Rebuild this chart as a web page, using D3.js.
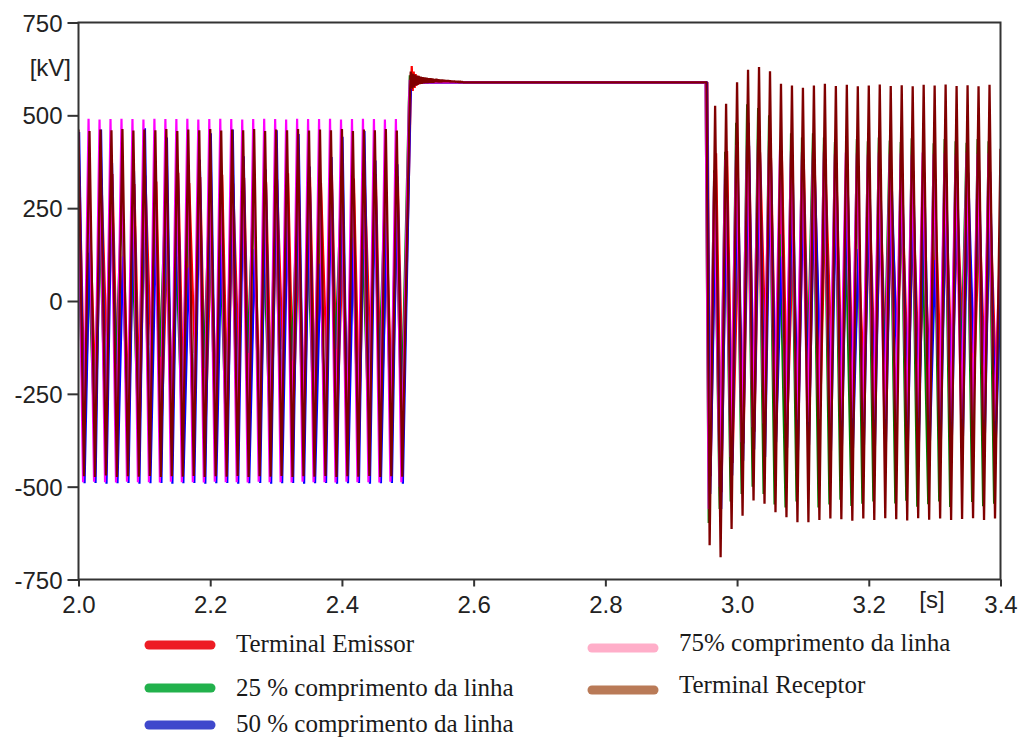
<!DOCTYPE html>
<html>
<head>
<meta charset="utf-8">
<script src="https://cdn.jsdelivr.net/npm/d3@7"></script>
<style>
  body { margin: 0; background: #fff; }
  svg { display: block; }
</style>
</head>
<body>
<svg id="chart" width="1024" height="740"></svg>
<script>
// ---- Axis ticks ----
const xTicks = [2.0, 2.2, 2.4, 2.6, 2.8, 3.0, 3.2, 3.4];
const yTicks = [-750, -500, -250, 0, 250, 500, 750];

// ---- Series (drawn in this order, receptor on top) ----
const seriesNames = [
  "Terminal Emissor",
  "25 % comprimento da linha",
  "50 % comprimento da linha",
  "75% comprimento da linha",
  "Terminal Receptor"
];
// phase lag of each measuring point relative to the receiving end (ms)
const phaseLagMs = [1.5, -1.4, 0.9, -1.4, 0.0];

// time base: one extreme value per 60 Hz half cycle
const gridStartS = 2.0;
const halfCycleS = 1 / 120;
const postFirstHalfCycle = 115;   // first extreme after the step at ~2.95 s
const ringStartS = 2.503;         // energisation transient
const ringStepS = 0.0015;
const stepDownS = 2.9535;

// sampled extremes before 2.5 s (kV), alternating peak / trough
const preEmissor = [
  335, -322, 180, -296, 330, -150, 342, -305, 160, -318,
  315, -328, 338, -120, 322, -322, 150, -310, 345, -326,
  318, -140, 334, -332, 170, -306, 340, -320, 316, -160,
  332, -302, 140, -330, 320, -312, 328, -130, 344, -298,
  190, -330, 334, -310, 318, -150, 340, -304, 160, -330,
  330, -316, 318, -140, 342, -326, 170, -312, 336, -322
];
const pre25 = [
  262, -318, 130, -334, 248, -312, 290, -170, 270, -306,
  140, -330, 300, -322, 258, -150, 284, -314, 120, -328,
  248, -336, 292, -180, 274, -326, 150, -338, 298, -318,
  260, -140, 286, -308, 130, -336, 294, -324, 268, -160,
  254, -340, 150, -320, 276, -330, 248, -130, 296, -336,
  262, -318, 140, -330, 252, -170, 292, -338, 270, -322
];
const pre50 = [
  455, -491, 210, -490, 462, -492, 372, -491, 120, -490,
  350, -492, 465, -491, 180, -490, 440, -492, 358, -491,
   90, -490, 380, -492, 452, -491, 200, -490, 462, -492,
  390, -491, 140, -490, 354, -492, 460, -491, 230, -490,
  450, -492, 362, -491, 100, -490, 388, -492, 442, -491,
  170, -490, 458, -492, 378, -491, 210, -490, 368, -492
];
const pre75 = [
  490, -488, 491, -487, 489, -488, 490, -489, 491, -487,
  490, -488, 489, -488, 491, -489, 490, -487, 490, -488,
  491, -488, 489, -489, 490, -487, 491, -488, 490, -488,
  489, -489, 490, -487, 491, -488, 490, -488, 489, -489,
  491, -487, 490, -488, 490, -488, 491, -489, 489, -487,
  490, -488, 491, -488, 490, -489, 489, -487, 490, -488
];
const preReceptor = [
  462, -472, 458, -474, 462, -470, 460, -474, 463, -472,
  459, -473, 462, -471, 460, -474, 463, -472, 458, -473,
  462, -471, 460, -474, 463, -472, 459, -473, 462, -471,
  460, -474, 463, -472, 458, -473, 462, -471, 460, -474,
  463, -472, 459, -473, 462, -471, 460, -474, 463, -472,
  458, -473, 462, -471, 460, -474, 463, -472, 459, -473
];

// transient after 2.5 s, sampled every 1.5 ms (kV)
const ringEmissor = [548, 633, 566, 618, 574, 611, 580, 606, 584, 603, 586, 601, 589];
const ring25 = [535, 608, 580, 612, 575, 606, 583, 604, 585, 602, 589];
const ring50 = [530, 602, 578, 609, 579, 605, 582, 603, 589];
const ring75 = [520, 596, 571, 608, 577, 605, 581, 602, 589];
const ringReceptor = [
  540, 618, 572, 612, 576, 610, 580, 607, 582, 606,
  584, 604, 585, 603, 586, 602, 587, 601, 587, 600,
  588, 600, 588, 599, 588, 598, 589, 598, 589, 597,
  589, 596, 589, 596, 590, 595, 590, 594, 590, 594,
  590, 593, 590, 592, 590, 592, 590, 591, 590, 591,
  589, 591, 589, 590, 589
];
// settled level before the step at ~2.95 s (kV)
const dcLevel = [589, 589, 589, 589, 589];

// sampled extremes after ~2.95 s (kV), starting with a trough
const postEmissor = [
  -472, 398, -515, 404, -436, 150, -384, 418, -352, 402,
  -120, 386, -330, 378, -318, 160, -306, 358, -298, 344,
  -286, 322, -140, 304, -268, 292, -262, 130, -250, 274,
  -246, 266, -240, 262, -110, 256, -238, 250, -232, 150,
  -228, 246, -230, 244, -226, 248, -130, 242, -228, 240,
  -222, 244, -220, 132
];
const post25 = [
  -598, 352, -560, 402, -540, 480, -520, 530, -500, 520,
  -520, 500, -548, 180, -556, 452, -540, 440, -200, 452,
  -556, 440, -548, 428, -535, 170, -552, 436, -546, 430,
  -540, 440, -190, 432, -545, 428, -538, 438, -554, 160,
  -547, 425, -540, 436, -555, 430, -180, 426, -541, 436,
  -553, 430, -546, 92
];
const post50 = [
  -520, 255, -560, 330, -470, 370, -430, 480, -400, 450,
  -420, 430, -380, 120, -395, 372, -402, 360, -388, 368,
  -150, 352, -404, 350, -392, 356, -400, 140, -396, 352,
  -402, 348, -394, 354, -160, 344, -398, 350, -404, 346,
  -396, 110, -400, 344, -394, 350, -402, 346, -140, 352,
  -400, 348, -396, 60
];
const post75 = [
  -560, 345, -500, 380, -420, 420, -380, 440, -340, 430,
  -330, 420, -320, 410, -330, 405, -320, 400, -326, 398,
  -318, 402, -330, 396, -322, 400, -316, 398, -326, 394,
  -320, 400, -318, 396, -328, 398, -322, 394, -316, 400,
  -324, 396, -320, 398, -326, 394, -318, 400, -322, 396,
  -320, 398, -324, 110
];
const postReceptor = [
  -658, 526, -690, 531, -614, 589, -578, 623, -537, 630,
  -546, 619, -569, 585, -582, 580, -596, 574, -596, 580,
  -590, 585, -586, 579, -588, 582, -592, 578, -586, 580,
  -590, 583, -585, 579, -588, 581, -591, 578, -585, 582,
  -589, 580, -586, 583, -590, 579, -587, 581, -585, 578,
  -590, 582, -586, 410
];

const preValues = [preEmissor, pre25, pre50, pre75, preReceptor];
const ringValues = [ringEmissor, ring25, ring50, ring75, ringReceptor];
const postValues = [postEmissor, post25, post50, post75, postReceptor];

// ---- Styles ----
const lineColors = ["#ff0000", "#008000", "#0000ff", "#ff00ff", "#800000"];
const lineWidths = [2.2, 2.2, 2.2, 2.2, 2.3];
const legendColors = ["#ed1c24", "#22b14c", "#3f48cc", "#ffaec9", "#b97a57"];

// ---- Layout ----
const svg = d3.select("#chart");
const plot = { left: 78.5, right: 1000.5, top: 22.5, bottom: 579.5 };

const x = d3.scaleLinear().domain([2.0, 3.4]).range([plot.left, plot.right]);
const y = d3.scaleLinear().domain([-750, 750]).range([plot.bottom, plot.top]);

const defs = svg.append("defs");
defs.append("clipPath").attr("id", "plotClip")
  .append("rect")
  .attr("x", plot.left).attr("y", plot.top)
  .attr("width", plot.right - plot.left)
  .attr("height", plot.bottom - plot.top);

// build each trace from its extremes and transient samples
function buildTrace(i) {
  const lag = phaseLagMs[i] / 1000;
  const pts = [];
  preValues[i].forEach((v, k) => pts.push([gridStartS + k * halfCycleS + lag, v]));
  ringValues[i].forEach((v, k) => pts.push([ringStartS + k * ringStepS + lag, v]));
  pts.push([stepDownS + lag, dcLevel[i]]);
  postValues[i].forEach((v, k) =>
    pts.push([gridStartS + (postFirstHalfCycle + k) * halfCycleS + lag, v]));
  return pts;
}

const line = d3.line().x(d => x(d[0])).y(d => y(d[1]));

const traces = svg.append("g").attr("clip-path", "url(#plotClip)");
seriesNames.forEach((name, i) => {
  traces.append("path")
    .datum(buildTrace(i))
    .attr("fill", "none")
    .attr("stroke", lineColors[i])
    .attr("stroke-width", lineWidths[i])
    .attr("stroke-linejoin", "bevel")
    .attr("d", line);
});

// ---- Axes and frame ----
const axisColor = "#333";
const labelFont = "'Liberation Sans', Arial, sans-serif";

const yAxis = svg.append("g")
  .attr("transform", `translate(${plot.left},0)`)
  .call(d3.axisLeft(y).tickValues(yTicks).tickSize(11).tickPadding(5)
    .tickFormat(d => String(d)));
const xAxis = svg.append("g")
  .attr("transform", `translate(0,${plot.bottom})`)
  .call(d3.axisBottom(x).tickValues(xTicks).tickSize(7).tickPadding(8)
    .tickFormat(d3.format(".1f")));

[yAxis, xAxis].forEach(g => {
  g.select(".domain").remove();
  g.selectAll(".tick line").attr("stroke", axisColor).attr("stroke-width", 2);
  g.selectAll(".tick text")
    .attr("fill", "#222")
    .style("font-family", labelFont)
    .style("font-size", "24px");
});
yAxis.selectAll(".tick text").attr("dy", "0.36em");
xAxis.selectAll(".tick text").attr("dy", "0.78em");

svg.append("rect")
  .attr("x", plot.left).attr("y", plot.top)
  .attr("width", plot.right - plot.left)
  .attr("height", plot.bottom - plot.top)
  .attr("fill", "none")
  .attr("stroke", axisColor)
  .attr("stroke-width", 2);

// unit labels
svg.append("text")
  .attr("x", 71).attr("y", 76)
  .attr("text-anchor", "end")
  .attr("fill", "#222")
  .style("font-family", labelFont).style("font-size", "24px")
  .text("[kV]");
svg.append("text")
  .attr("x", 932).attr("y", 608)
  .attr("text-anchor", "middle")
  .attr("fill", "#222")
  .style("font-family", labelFont).style("font-size", "24px")
  .text("[s]");

// ---- Legend ----
const legendSlots = [
  { sx: 145, sy: 645, ty: 652 },
  { sx: 145, sy: 688, ty: 696 },
  { sx: 145, sy: 725, ty: 732 },
  { sx: 588, sy: 648, ty: 651 },
  { sx: 588, sy: 690, ty: 693 }
];
const legend = svg.append("g");
seriesNames.forEach((name, i) => {
  const s = legendSlots[i];
  legend.append("line")
    .attr("x1", s.sx + 4).attr("x2", s.sx + 66)
    .attr("y1", s.sy).attr("y2", s.sy)
    .attr("stroke", legendColors[i])
    .attr("stroke-width", 9)
    .attr("stroke-linecap", "round");
  legend.append("text")
    .attr("x", s.sx + 91).attr("y", s.ty)
    .attr("fill", "#1a1a1a")
    .style("font-family", "'Liberation Serif', 'Times New Roman', serif")
    .style("font-size", "25px")
    .text(name);
});
</script>
</body>
</html>
